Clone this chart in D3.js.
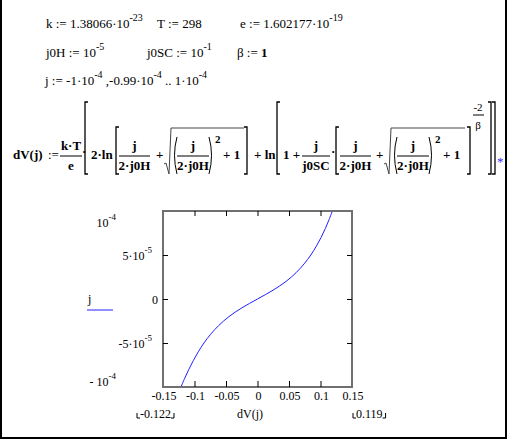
<!DOCTYPE html>
<html><head><meta charset="utf-8">
<script src="https://cdn.jsdelivr.net/npm/d3@7"></script>
<style>
body{margin:0;background:#fff}
svg{display:block;font-family:"Liberation Serif","Times New Roman",serif}
</style></head><body>
<svg width="507" height="440"></svg>
<script>
// values
var jVals = [-1.0e-4,-0.9e-4,-0.8e-4,-0.7e-4,-0.6e-4,-0.5e-4,-0.4e-4,-0.3e-4,-0.2e-4,-0.1e-4,0,
             0.1e-4,0.2e-4,0.3e-4,0.4e-4,0.5e-4,0.6e-4,0.7e-4,0.8e-4,0.9e-4,1.0e-4];
var dVVals = [-0.1215,-0.1155,-0.1090,-0.1019,-0.0940,-0.0850,-0.0743,-0.0614,-0.0453,-0.0247,0,
              0.0247,0.0453,0.0614,0.0741,0.0846,0.0934,0.1010,0.1076,0.1135,0.1188];
var xTicks = [-0.15,-0.1,-0.05,0,0.05,0.1,0.15];
var xTickLabels = ["-0.15","-0.1","-0.05","0","0.05","0.1","0.15"];
var yTicks = [1e-4,5e-5,0,-5e-5,-1e-4];
var yTickBase = ["10","5\u00b710","0","-5\u00b710","- 10"];
var yTickExp = ["-4","-5","","-5","-4"];
var xLimits = ["-0.122","0.119"];

var svg = d3.select('svg');

// sheet border (left, right, bottom)
svg.append('rect').attr('x',1).attr('y',-10).attr('width',505).attr('height',448)
  .attr('fill','none').attr('stroke','#000').attr('stroke-width',2);

function txt(x, y, parts, size, anchor, weight){
  var t = svg.append('text').attr('x',x).attr('y',y)
    .attr('font-size',size||13).attr('text-anchor',anchor||'start');
  if(weight) t.attr('font-weight',weight);
  if(typeof parts === 'string') parts = [[parts]];
  var up = false;
  parts.forEach(function(p){
    var s = t.append('tspan').text(p[0]);
    if(p[1] && !up){ s.attr('dy',-7).attr('font-size',(size||13)-3); up = true; }
    else if(p[1]) s.attr('font-size',(size||13)-3);
    else if(up){ s.attr('dy',7); up = false; }
    if(p[2]) s.attr('font-weight',p[2]);
  });
  return t;
}

// definitions
txt(46,28,[['k := 1.38066\u00b710'],['-23',1]]);
txt(157,28,'T := 298');
txt(240,28,[['e := 1.602177\u00b710'],['-19',1]]);
txt(46,57,[['j0H := 10'],['-5',1]]);
txt(147,57,[['j0SC := 10'],['-1',1]]);
txt(237,57,[['\u03b2 := '],['1',0,'bold']]);
txt(45,85,[['j := -1\u00b710'],['-4',1],[' ,-0.99\u00b710'],['-4',1],[' .. 1\u00b710'],['-4',1]]);

// dV(j) definition
var MB = 159, NB = 150, DB = 170, BAR = 156, ES = 13;
function eq(x, y, s, anchor){ return txt(x, y, s, ES, anchor, 'bold'); }
function bar(x1, x2, y){
  svg.append('line').attr('x1',x1).attr('x2',x2).attr('y1',y).attr('y2',y)
    .attr('stroke','#000').attr('stroke-width',1);
}
function frac(x1, x2, num, den){
  var c = (x1+x2)/2;
  eq(c, NB, num, 'middle'); eq(c, DB, den, 'middle'); bar(x1, x2, BAR);
}
function brk(x, y1, y2, dir){
  svg.append('path').attr('d','M'+(x+3*dir)+','+y1+'H'+x+'V'+y2+'H'+(x+3*dir))
    .attr('fill','none').attr('stroke','#000').attr('stroke-width',1.3);
}
function root(x, x2){
  svg.append('path').attr('d','M'+x+','+(MB+5)+'l2,-1l3,11l2,-46H'+x2)
    .attr('fill','none').attr('stroke','#444').attr('stroke-width',1);
}
function paren(x1, x2){
  svg.append('path').attr('d','M'+(x1+4)+','+(MB-22)+'Q'+(x1-1)+','+(MB-4)+' '+(x1+4)+','+(MB+15))
    .attr('fill','none').attr('stroke','#000').attr('stroke-width',1);
  svg.append('path').attr('d','M'+(x2-4)+','+(MB-22)+'Q'+(x2+1)+','+(MB-4)+' '+(x2-4)+','+(MB+15))
    .attr('fill','none').attr('stroke','#000').attr('stroke-width',1);
}
var OT = 102, IT = 127, BB = 174;
eq(13, MB, 'dV(j)');
txt(48, MB, ':=', ES);
frac(60, 82, 'k\u00b7T', 'e');
eq(82, MB-3, '\u00b7');
brk(85, OT, BB, 1);
eq(91, MB, '2\u00b7ln');
brk(116, IT, BB, 1);
frac(119, 150, 'j', '2\u00b7j0H');
eq(156, MB, '+');
root(164, 244);
paren(173, 213);
frac(177, 209, 'j', '2\u00b7j0H');
eq(215, MB-16, '2', 'start').attr('font-size',11);
eq(223, MB, '+ 1');
brk(247, IT, BB, -1);
eq(254, MB, '+ ln');
brk(277, OT, BB, 1);
eq(283, MB, '1 +');
frac(302, 330, 'j', 'j0SC');
eq(331, MB-3, '\u00b7');
brk(336, IT, BB, 1);
frac(340, 371, 'j', '2\u00b7j0H');
eq(376, MB, '+');
root(384, 465);
paren(393, 433);
frac(397, 429, 'j', '2\u00b7j0H');
eq(435, MB-16, '2', 'start').attr('font-size',11);
eq(443, MB, '+ 1');
brk(470, IT, BB, -1);
txt(478, 111, '-2', 11, 'middle');
bar(473, 484, 115);
txt(478, 129, '\u03b2', 11, 'middle');
brk(491, OT, BB, -1);
brk(495, OT, BB, -1);
svg.append('text').attr('x',497).attr('y',166).attr('font-size',13)
  .attr('fill','#3030ff').text('*');

// plot
var LEFT = 163, RIGHT = 352, TOP = 211, BOTTOM = 387;
var x = d3.scaleLinear().domain([-0.15,0.15]).range([LEFT,RIGHT]);
var y = d3.scaleLinear().domain([-1e-4,1e-4]).range([BOTTOM,TOP]);
var inner = xTicks.slice(1,-1);
var innerY = yTicks.slice(1,-1);

svg.append('clipPath').attr('id','pa').append('rect')
  .attr('x',LEFT).attr('y',TOP).attr('width',RIGHT-LEFT).attr('height',BOTTOM-TOP);

var pts = jVals.map(function(j,i){ return [dVVals[i], j]; });
svg.append('path').datum(pts).attr('clip-path','url(#pa)')
  .attr('d', d3.line().x(function(d){return x(d[0]);}).y(function(d){return y(d[1]);}).curve(d3.curveCatmullRom))
  .attr('fill','none').attr('stroke','#2020ff').attr('stroke-width',1);

svg.append('rect').attr('x',LEFT).attr('y',TOP).attr('width',RIGHT-LEFT).attr('height',BOTTOM-TOP)
  .attr('fill','none').attr('stroke','#707070').attr('stroke-width',2);

var gb = svg.append('g').attr('transform','translate(0,'+BOTTOM+')')
  .call(d3.axisBottom(x).tickValues(inner).tickSize(-6).tickFormat(''));
var gt = svg.append('g').attr('transform','translate(0,'+TOP+')')
  .call(d3.axisTop(x).tickValues(inner).tickSize(-5).tickFormat(''));
var gl = svg.append('g').attr('transform','translate('+LEFT+',0)')
  .call(d3.axisLeft(y).tickValues(innerY).tickSize(-5).tickFormat(''));
var gr = svg.append('g').attr('transform','translate('+RIGHT+',0)')
  .call(d3.axisRight(y).tickValues(innerY).tickSize(-5).tickFormat(''));
[gb,gt,gl,gr].forEach(function(g){ g.select('.domain').remove(); g.selectAll('line').attr('stroke','#000'); });

// x tick labels
svg.selectAll('.xl').data(xTicks).enter().append('text')
  .attr('x',function(d){return x(d)+1;}).attr('y',BOTTOM+13)
  .attr('text-anchor','middle').attr('font-size',12)
  .text(function(d,i){return xTickLabels[i];});

// y tick labels, limits placed the Mathcad way
yTicks.forEach(function(v,i){
  var lim = (i===0 || i===yTicks.length-1);
  var bx = lim ? 116 : (yTickExp[i] ? 152 : 158);
  var by = y(v) + (i===0 ? 16 : (lim ? -1 : 5));
  var parts = [[yTickBase[i]]];
  if(yTickExp[i]) parts.push([yTickExp[i],1]);
  txt(bx, by, parts, 12, 'end');
});

// legend
txt(88, 303, 'j', 12);
svg.append('line').attr('x1',87).attr('x2',113).attr('y1',310).attr('y2',310)
  .attr('stroke','#2020ff').attr('stroke-width',1);

// x label and limits
txt(250, 418, 'dV(j)', 12, 'middle');
function limit(x1, s){
  var t = txt(x1+3, 418, s, 12);
  var w = t.node().getComputedTextLength();
  svg.append('path').attr('d','M'+x1+','+413+'V'+418+'H'+(x1+3)
      +'M'+(x1+w+6)+','+413+'V'+418+'H'+(x1+w+3))
    .attr('fill','none').attr('stroke','#000').attr('stroke-width',1);
}
limit(137, xLimits[0]);
limit(353, xLimits[1]);
</script>
</body></html>
